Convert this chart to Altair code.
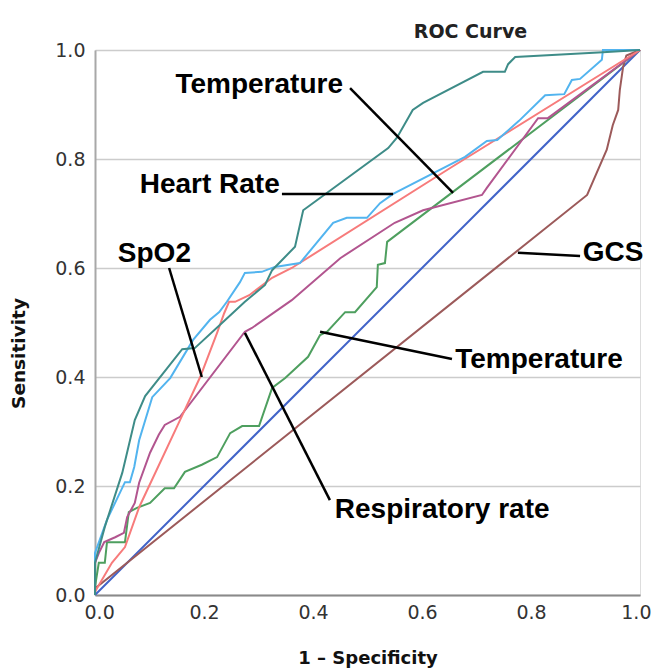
import altair as alt
import pandas as pd

# ---- ROC curves (1 - specificity, sensitivity) ----
teal_x = [0, 0, 0.018, 0.050, 0.073, 0.092, 0.160, 0.183, 0.233, 0.275, 0.312, 0.325, 0.367, 0.382, 0.426, 0.538, 0.554, 0.583, 0.602, 0.712, 0.752, 0.758, 0.771, 0.932, 1]
teal_y = [0, 0.059, 0.125, 0.224, 0.321, 0.365, 0.451, 0.453, 0.499, 0.538, 0.569, 0.596, 0.639, 0.706, 0.738, 0.820, 0.839, 0.890, 0.903, 0.960, 0.960, 0.974, 0.987, 0.996, 1]

lblue_x = [0, 0, 0.022, 0.055, 0.064, 0.072, 0.081, 0.105, 0.138, 0.180, 0.211, 0.228, 0.242, 0.266, 0.275, 0.306, 0.330, 0.376, 0.437, 0.462, 0.499, 0.523, 0.547, 0.679, 0.719, 0.738, 0.778, 0.826, 0.861, 0.875, 0.890, 0.930, 0.932, 1]
lblue_y = [0, 0.077, 0.138, 0.207, 0.207, 0.235, 0.284, 0.363, 0.398, 0.468, 0.505, 0.519, 0.538, 0.574, 0.591, 0.593, 0.602, 0.609, 0.683, 0.692, 0.692, 0.719, 0.736, 0.804, 0.833, 0.835, 0.870, 0.917, 0.919, 0.945, 0.947, 0.982, 1.0, 1]

red_x = [0, 0.031, 0.055, 0.081, 0.156, 0.193, 0.224, 0.237, 0.246, 0.257, 0.283, 0.325, 0.361, 0.651, 1]
red_y = [0.006, 0.059, 0.088, 0.161, 0.321, 0.400, 0.481, 0.517, 0.538, 0.538, 0.550, 0.582, 0.600, 0.783, 1]

purple_x = [0, 0, 0.007, 0.017, 0.037, 0.053, 0.059, 0.073, 0.081, 0.101, 0.117, 0.128, 0.156, 0.275, 0.288, 0.361, 0.450, 0.550, 0.602, 0.710, 0.719, 0.813, 0.831, 1]
purple_y = [0, 0.059, 0.077, 0.097, 0.106, 0.114, 0.143, 0.169, 0.206, 0.261, 0.294, 0.312, 0.327, 0.483, 0.490, 0.541, 0.618, 0.683, 0.706, 0.734, 0.747, 0.875, 0.875, 1]

green_x = [0, 0, 0.007, 0.018, 0.022, 0.055, 0.062, 0.077, 0.101, 0.128, 0.145, 0.165, 0.196, 0.224, 0.248, 0.270, 0.301, 0.325, 0.349, 0.391, 0.413, 0.426, 0.459, 0.477, 0.517, 0.519, 0.532, 0.536, 1]
green_y = [0, 0.015, 0.059, 0.059, 0.097, 0.097, 0.152, 0.160, 0.169, 0.196, 0.196, 0.226, 0.239, 0.253, 0.297, 0.310, 0.310, 0.380, 0.398, 0.437, 0.477, 0.483, 0.519, 0.519, 0.565, 0.606, 0.609, 0.648, 1]

diag_x = [0, 1]
diag_y = [0, 1]

brown_x = [0, 0, 0.903, 0.939, 0.950, 0.960, 0.963, 0.969, 0.975, 1]
brown_y = [0, 0.012, 0.734, 0.817, 0.862, 0.890, 0.927, 0.969, 0.990, 1]

curve_names = ["diag", "brown", "green", "purple", "red", "lblue", "teal"]
curve_colors = ["#4163c8", "#9c5a5a", "#4e9f5f", "#b2558f", "#f77b7b", "#52b4ef", "#3e8c88"]

# ---- annotations ----
ann_x1 = [0.468, 0.343, 0.136, 0.275, 0.413, 0.776]
ann_y1 = [0.930, 0.736, 0.600, 0.481, 0.483, 0.628]
ann_x2 = [0.657, 0.547, 0.196, 0.431, 0.655, 0.890]
ann_y2 = [0.738, 0.736, 0.400, 0.174, 0.433, 0.622]

right_labels = ["Temperature", "Heart Rate"]
right_lx = [0.455, 0.339]
right_ly = [0.921, 0.738]

left_labels = ["Respiratory rate", "Temperature", "GCS"]
left_lx = [0.440, 0.661, 0.895]
left_ly = [0.141, 0.4165, 0.613]

center_labels = ["SpO2"]
center_lx = [0.109]
center_ly = [0.611]

tick_vals = [0.0, 0.2, 0.4, 0.6, 0.8, 1.0]

# ---- build tables ----
series = {
    "diag": (diag_x, diag_y), "brown": (brown_x, brown_y), "green": (green_x, green_y),
    "purple": (purple_x, purple_y), "red": (red_x, red_y), "lblue": (lblue_x, lblue_y),
    "teal": (teal_x, teal_y),
}
rows = []
for name in curve_names:
    xs, ys = series[name]
    for i, (a, b) in enumerate(zip(xs, ys)):
        rows.append({"curve": name, "i": i, "fpr": a, "tpr": b})
curves = pd.DataFrame(rows)

ann = pd.DataFrame({"x1": ann_x1, "y1": ann_y1, "x2": ann_x2, "y2": ann_y2})
lab_r = pd.DataFrame({"t": right_labels, "x": right_lx, "y": right_ly})
lab_l = pd.DataFrame({"t": left_labels, "x": left_lx, "y": left_ly})
lab_c = pd.DataFrame({"t": center_labels, "x": center_lx, "y": center_ly})

xscale = alt.Scale(domain=[0, 1], nice=False, zero=False)
yscale = alt.Scale(domain=[0, 1], nice=False, zero=False)

xaxis = alt.Axis(values=tick_vals, format=".1f", grid=False, ticks=False,
                 labelFlush=True, labelFlushOffset=11,
                 domainColor="#8a8a8a", domainWidth=2, labelPadding=8,
                 labelFont="DejaVu Sans", labelFontSize=19, labelColor="#333333",
                 title="1 – Specificity", titleFont="DejaVu Sans", titleFontSize=18,
                 titleFontWeight="bold", titleColor="#111111", titleY=63,
                 titleBaseline="middle")
yaxis = alt.Axis(values=tick_vals, format=".1f", grid=True, gridColor="#cccccc",
                 gridWidth=1.5, ticks=False, labelFlush=False, domainColor="#a8a8a8", domainWidth=2,
                 labelPadding=10, labelFont="DejaVu Sans", labelFontSize=19,
                 labelColor="#333333", title="Sensitivity", titleFont="DejaVu Sans",
                 titleFontSize=18.5, titleFontWeight="bold", titleColor="#111111",
                 titleAngle=270, titleX=-77, titleY=303, titleAlign="center",
                 titleBaseline="middle")

lines = alt.Chart(curves).mark_line(strokeWidth=2).encode(
    x=alt.X("fpr:Q", scale=xscale, axis=xaxis),
    y=alt.Y("tpr:Q", scale=yscale, axis=yaxis),
    color=alt.Color("curve:N", scale=alt.Scale(domain=curve_names, range=curve_colors), legend=None),
    order="i:Q",
    detail="curve:N",
)

rules = alt.Chart(ann).mark_rule(color="#000000", strokeWidth=2.5).encode(
    x="x1:Q", y="y1:Q", x2="x2:Q", y2="y2:Q"
)

def labels(df, align):
    return alt.Chart(df).mark_text(
        align=align, baseline="alphabetic", font="Liberation Sans",
        fontWeight="bold", fontSize=28, color="#000000"
    ).encode(x="x:Q", y="y:Q", text="t:N")

chart = alt.layer(
    lines, rules, labels(lab_r, "right"), labels(lab_l, "left"), labels(lab_c, "center")
).properties(
    width=545, height=545,
    title=alt.TitleParams("ROC Curve", font="DejaVu Sans", fontSize=19, fontWeight="bold",
                          color="#222222", anchor="middle", dx=103, offset=0, dy=1),
    autosize=alt.AutoSizeParams(type="none"),
    padding={"left": 87, "top": 42, "right": 12, "bottom": 75},
).configure_view(stroke=None).configure(background="white")

chart.save("out.html", embed_options={"renderer": "svg", "actions": False})
